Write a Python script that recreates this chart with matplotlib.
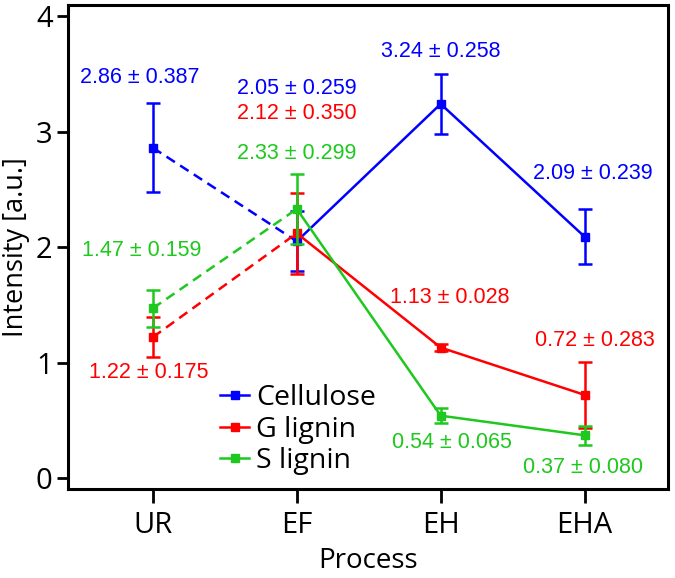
import numpy as np
import matplotlib.pyplot as plt

processes = ["UR", "EF", "EH", "EHA"]
series_names = ["Cellulose", "G lignin", "S lignin"]
cellulose = [2.86, 2.05, 3.24, 2.09]
cellulose_err = [0.387, 0.259, 0.258, 0.239]
g_lignin = [1.22, 2.12, 1.13, 0.72]
g_lignin_err = [0.175, 0.350, 0.028, 0.283]
s_lignin = [1.47, 2.33, 0.54, 0.37]
s_lignin_err = [0.159, 0.299, 0.065, 0.080]

colors = ["#0000ff", "#ff0000", "#1ec81e"]

# label anchor offsets (dx in category units, y in data units)
label_pos = {
    "Cellulose": [(-0.09, 3.47), (0.0, 3.37), (0.0, 3.69), (0.06, 2.64)],
    "G lignin": [(-0.03, 0.91), (0.0, 3.16), (0.06, 1.56), (0.07, 1.19)],
    "S lignin": [(-0.08, 1.97), (0.0, 2.81), (0.08, 0.31), (-0.01, 0.09)],
}

plt.rcParams["font.family"] = ["Open Sans", "DejaVu Sans"]
fig = plt.figure(figsize=(6.75, 5.78), dpi=100)
ax = fig.add_axes([0.1007, 0.154, 0.889, 0.837])

x = np.arange(len(processes))
data = [(cellulose, cellulose_err), (g_lignin, g_lignin_err), (s_lignin, s_lignin_err)]

for name, (vals, errs), c in zip(series_names, data, colors):
    vals = np.array(vals)
    errs = np.array(errs)
    ax.plot(x[:2], vals[:2], color=c, lw=1.8, ls=(0, (4, 2.5)))
    ax.plot(x[1:], vals[1:], color=c, lw=1.8, marker="s", ms=6,
            label=name)
    ax.plot(x[:1], vals[:1], color=c, marker="s", ms=6, ls="none")
    ax.errorbar(x, vals, yerr=errs, fmt="none", ecolor=c, elinewidth=1.8,
                capsize=5, capthick=1.8)
    for i, (dx, ty) in enumerate(label_pos[name]):
        ax.text(x[i] + dx, ty, f"{vals[i]:.2f} \u00b1 {errs[i]:.3f}",
                color=c, fontsize=15.5, ha="center", va="center",
                family=["Liberation Sans", "DejaVu Sans"])

ax.set_xlim(-0.59, 3.58)
ax.set_ylim(-0.095, 4.095)
ax.set_xticks(x)
ax.set_xticklabels(processes)
ax.set_yticks([0, 1, 2, 3, 4])
ax.tick_params(axis="both", direction="out", width=2, labelsize=21)
ax.tick_params(axis="y", length=8, pad=3)
ax.tick_params(axis="x", length=10, pad=6)
for s in ax.spines.values():
    s.set_linewidth(2.2)

ax.set_xlabel("Process", fontsize=20, labelpad=5)
ax.set_ylabel("Intensity [a.u.]", fontsize=19.5, labelpad=4)

leg = ax.legend(loc="upper left", bbox_to_anchor=(0.235, 0.24), frameon=False,
                fontsize=20.5, handlelength=1.0, handletextpad=0.25,
                labelspacing=0.12, borderaxespad=0)

fig.savefig("out.png", dpi=100)
